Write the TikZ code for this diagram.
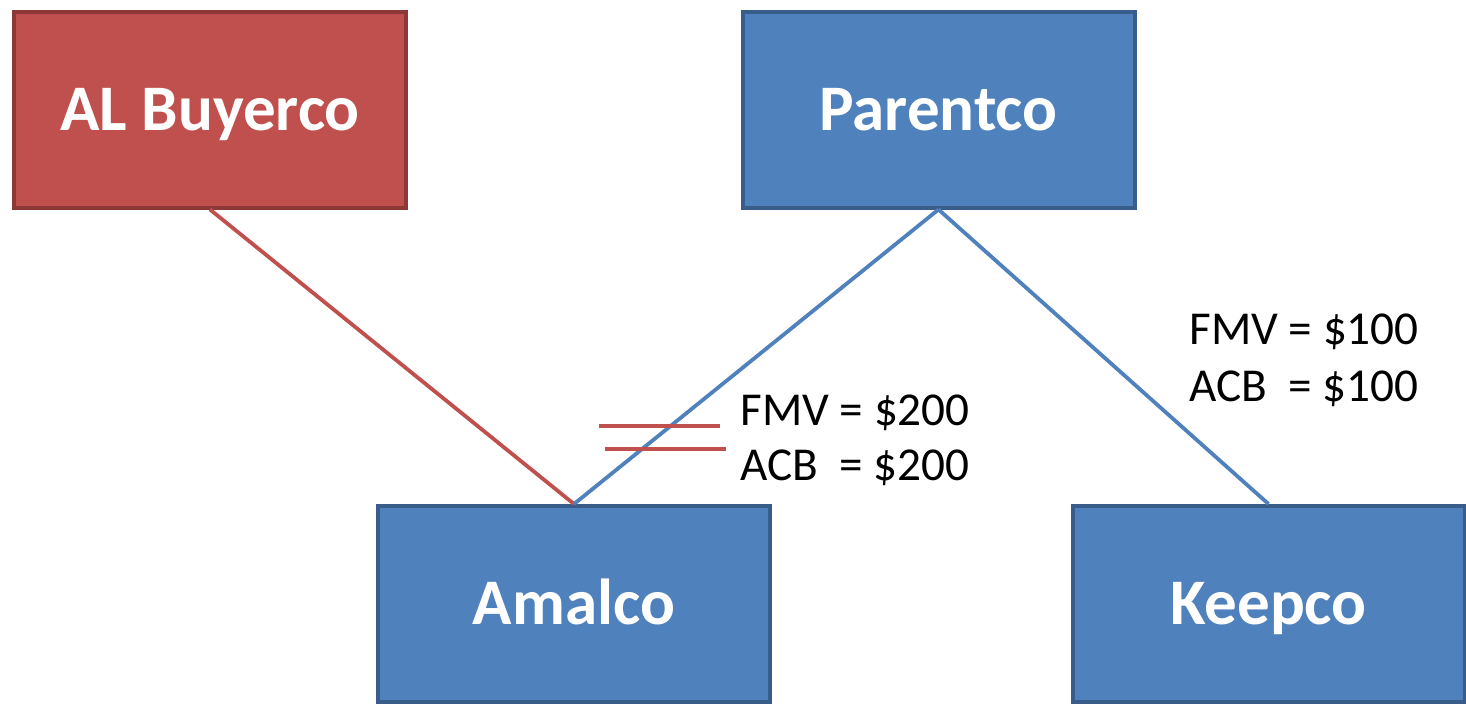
\documentclass[tikz,border=0pt]{standalone}
\usepackage{fontspec}
\setmainfont{Carlito}
\definecolor{redfill}{HTML}{C0504D}
\definecolor{redline}{HTML}{8C3836}
\definecolor{bluefill}{HTML}{4F81BD}
\definecolor{blueline}{HTML}{385D8A}
\tikzset{
  box/.style={draw, line width=2pt, minimum width=196pt, minimum height=98pt,
    text=white, font=\fontsize{32.5}{39}\selectfont\bfseries,
    text height=20.5pt, text depth=0pt, inner sep=0pt},
  redbox/.style={box, fill=redfill, draw=redline},
  bluebox/.style={box, fill=bluefill, draw=blueline},
  link/.style={line width=1.9pt},
  lbl/.style={anchor=base west, inner sep=0pt, font=\fontsize{23.6}{28}\selectfont},
}
\begin{document}
\begin{tikzpicture}[x=0.5pt, y=-0.5pt]
\useasboundingbox (0,0) rectangle (1466,703);
\node[redbox]  (ab) at (210,109.5) {AL Buyerco};
\node[bluebox] (pc) at (938.5,109.5) {Parentco};
\node[bluebox] (am) at (574,604) {Amalco};
\node[bluebox] (kc) at (1268.5,604) {Keepco};
\draw[link, redfill] (ab.south) -- (am.north);
\draw[link, bluefill] (pc.south) -- (am.north);
\draw[link, bluefill] (pc.south) -- (kc.north);
\draw[line width=2.2pt, redfill] (599,426) -- (720,426);
\draw[line width=2.2pt, redfill] (604.5,449) -- (725.5,449);
\node[lbl] (f2) at (740,425) {FMV = \$200};
\node[lbl] (a2) at (740,480) {ACB\ \ = \$200};
\node[lbl] (f1) at (1189,344) {FMV = \$100};
\node[lbl] (a1) at (1189,401) {ACB\ \ = \$100};
\end{tikzpicture}
\end{document}
